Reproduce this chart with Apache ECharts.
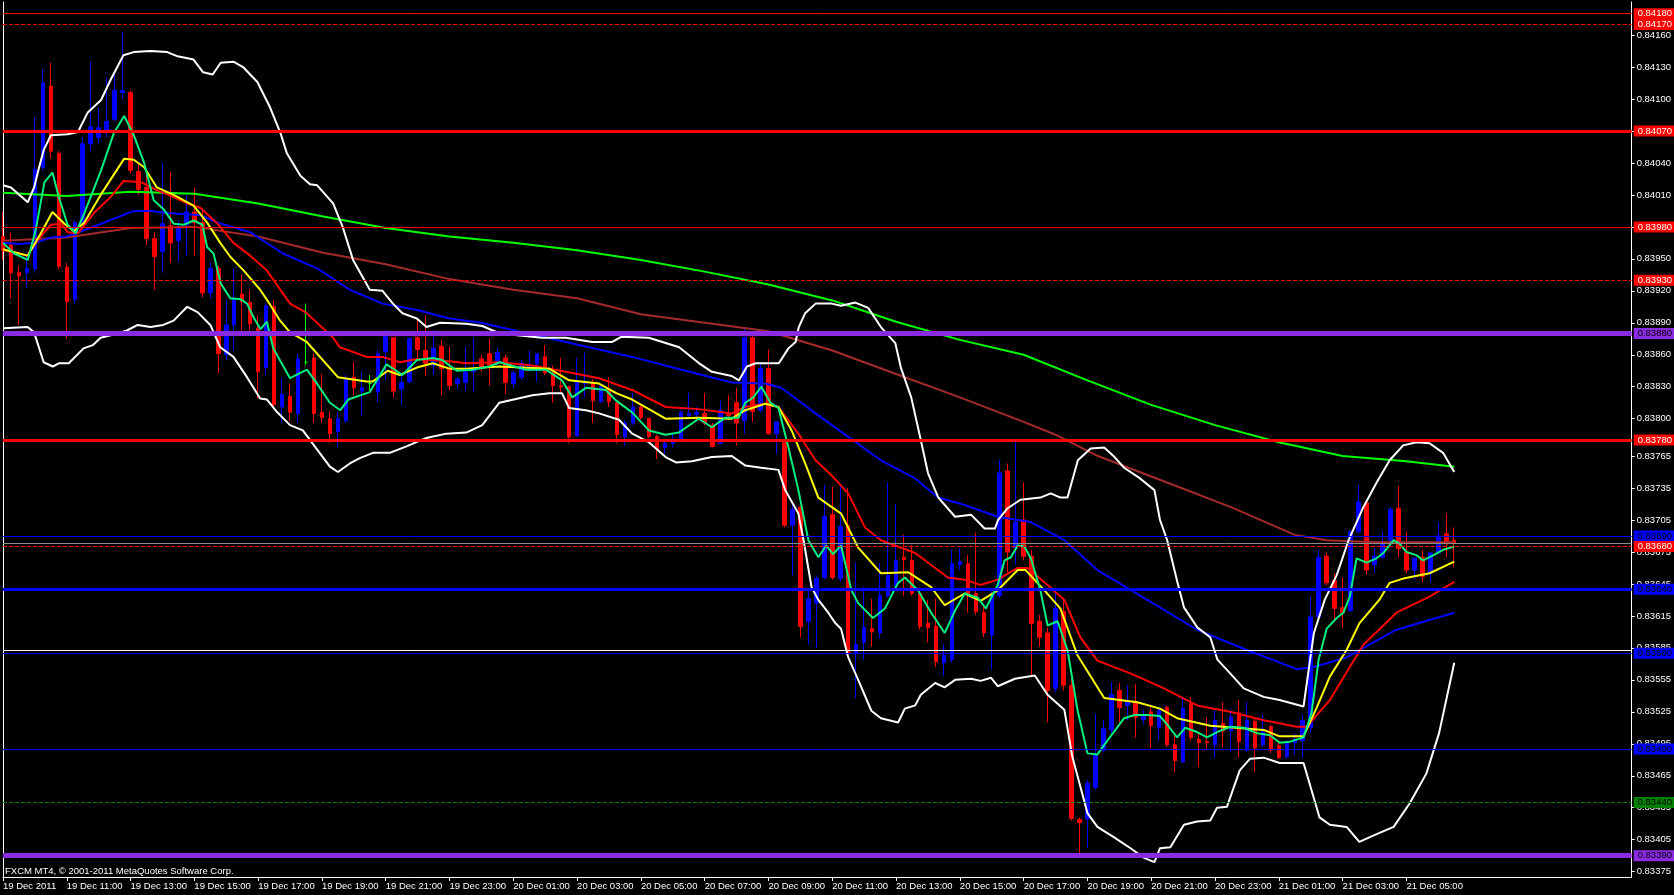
<!DOCTYPE html>
<html><head><meta charset="utf-8">
<script src="https://cdn.jsdelivr.net/npm/echarts@6/dist/echarts.min.js"></script>
<style>html,body{margin:0;padding:0;background:#000;}#c{width:1674px;height:895px;}</style>
</head><body><div id="c"></div>
<script>
// ---------------- DATA (EURGBP M15, 19 Dec 2011 09:00 -> 21 Dec 2011 06:30) ----------------
const timeLabels = ['19 Dec 2011','19 Dec 11:00','19 Dec 13:00','19 Dec 15:00','19 Dec 17:00','19 Dec 19:00','19 Dec 21:00','19 Dec 23:00','20 Dec 01:00','20 Dec 03:00','20 Dec 05:00','20 Dec 07:00','20 Dec 09:00','20 Dec 11:00','20 Dec 13:00','20 Dec 15:00','20 Dec 17:00','20 Dec 19:00','20 Dec 21:00','20 Dec 23:00','21 Dec 01:00','21 Dec 03:00','21 Dec 05:00'];
const barsPerLabel = 8;

const open = [0.83971,0.83963,0.83937,0.83937,0.83941,0.84036,0.84112,0.84049,0.83942,0.83912,0.83983,0.84058,0.84064,0.84071,0.84081,0.84106,0.84106,0.84032,0.84017,0.83969,0.83957,0.83981,0.83967,0.83982,0.83994,0.83984,0.83918,0.83941,0.83860,0.83888,0.83917,0.83909,0.83885,0.83848,0.83905,0.83811,0.83821,0.83805,0.83853,0.83857,0.83806,0.83800,0.83788,0.83798,0.83839,0.83826,0.83833,0.83825,0.83863,0.83876,0.83828,0.83835,0.83876,0.83864,0.83850,0.83868,0.83847,0.83833,0.83834,0.83844,0.83856,0.83861,0.83853,0.83857,0.83833,0.83839,0.83848,0.83852,0.83858,0.83843,0.83831,0.83830,0.83784,0.83833,0.83833,0.83816,0.83828,0.83815,0.83783,0.83796,0.83811,0.83800,0.83783,0.83773,0.83777,0.83781,0.83803,0.83804,0.83805,0.83794,0.83777,0.83805,0.83815,0.83798,0.83876,0.83808,0.83847,0.83786,0.83778,0.83700,0.83717,0.83610,0.83627,0.83651,0.83710,0.83650,0.83700,0.83580,0.83590,0.83603,0.83599,0.83634,0.83643,0.83670,0.83667,0.83636,0.83608,0.83605,0.83571,0.83574,0.83663,0.83664,0.83636,0.83618,0.83597,0.83634,0.83751,0.83679,0.83705,0.83671,0.83610,0.83599,0.83547,0.83619,0.83550,0.83424,0.83425,0.83454,0.83489,0.83508,0.83545,0.83531,0.83533,0.83518,0.83525,0.83510,0.83529,0.83494,0.83478,0.83533,0.83499,0.83497,0.83494,0.83514,0.83507,0.83524,0.83489,0.83516,0.83494,0.83511,0.83493,0.83483,0.83496,0.83498,0.83510,0.83614,0.83671,0.83648,0.83623,0.83620,0.83694,0.83721,0.83663,0.83670,0.83686,0.83716,0.83675,0.83658,0.83670,0.83655,0.83674,0.83692,0.83686];
const close = [0.83958,0.83937,0.83934,0.83941,0.84034,0.84115,0.84051,0.83943,0.83910,0.83984,0.84058,0.84074,0.84073,0.84079,0.84108,0.84108,0.84033,0.84015,0.83969,0.83952,0.83983,0.83965,0.83980,0.83994,0.83984,0.83918,0.83941,0.83861,0.83888,0.83913,0.83910,0.83889,0.83844,0.83906,0.83813,0.83823,0.83806,0.83856,0.83853,0.83805,0.83801,0.83786,0.83800,0.83837,0.83829,0.83829,0.83833,0.83861,0.83877,0.83826,0.83834,0.83875,0.83865,0.83852,0.83866,0.83847,0.83831,0.83837,0.83844,0.83846,0.83849,0.83850,0.83862,0.83834,0.83843,0.83852,0.83850,0.83861,0.83843,0.83831,0.83830,0.83783,0.83834,0.83834,0.83817,0.83830,0.83816,0.83785,0.83796,0.83811,0.83801,0.83783,0.83772,0.83777,0.83780,0.83806,0.83805,0.83806,0.83796,0.83774,0.83808,0.83803,0.83796,0.83876,0.83807,0.83847,0.83786,0.83797,0.83700,0.83715,0.83605,0.83631,0.83650,0.83708,0.83651,0.83699,0.83580,0.83588,0.83604,0.83600,0.83634,0.83653,0.83667,0.83668,0.83636,0.83605,0.83604,0.83572,0.83578,0.83664,0.83666,0.83634,0.83619,0.83599,0.83636,0.83749,0.83675,0.83703,0.83671,0.83608,0.83595,0.83545,0.83622,0.83550,0.83425,0.83421,0.83458,0.83484,0.83509,0.83541,0.83529,0.83534,0.83520,0.83522,0.83512,0.83527,0.83494,0.83479,0.83528,0.83501,0.83496,0.83496,0.83517,0.83507,0.83520,0.83497,0.83517,0.83491,0.83506,0.83489,0.83482,0.83496,0.83499,0.83517,0.83614,0.83670,0.83646,0.83622,0.83618,0.83694,0.83722,0.83658,0.83671,0.83684,0.83715,0.83678,0.83658,0.83669,0.83652,0.83674,0.83690,0.83683,0.83683];
const low = [0.83949,0.83913,0.83888,0.83923,0.83937,0.84033,0.84044,0.83940,0.83875,0.83908,0.83981,0.84051,0.84058,0.84064,0.84079,0.84100,0.84030,0.84010,0.83963,0.83921,0.83937,0.83946,0.83947,0.83953,0.83953,0.83914,0.83913,0.83843,0.83855,0.83864,0.83883,0.83883,0.83819,0.83841,0.83811,0.83796,0.83798,0.83796,0.83850,0.83796,0.83796,0.83777,0.83773,0.83796,0.83822,0.83803,0.83827,0.83815,0.83836,0.83820,0.83813,0.83833,0.83855,0.83840,0.83841,0.83822,0.83827,0.83828,0.83826,0.83825,0.83844,0.83831,0.83850,0.83823,0.83829,0.83836,0.83844,0.83835,0.83841,0.83815,0.83825,0.83777,0.83783,0.83820,0.83796,0.83815,0.83811,0.83777,0.83775,0.83794,0.83799,0.83782,0.83762,0.83767,0.83773,0.83778,0.83801,0.83801,0.83794,0.83773,0.83776,0.83799,0.83775,0.83786,0.83797,0.83806,0.83785,0.83767,0.83698,0.83653,0.83595,0.83588,0.83585,0.83649,0.83649,0.83647,0.83578,0.83538,0.83574,0.83586,0.83594,0.83632,0.83639,0.83634,0.83634,0.83602,0.83590,0.83567,0.83559,0.83571,0.83658,0.83618,0.83616,0.83595,0.83565,0.83632,0.83656,0.83663,0.83667,0.83558,0.83586,0.83515,0.83543,0.83545,0.83423,0.83391,0.83397,0.83452,0.83487,0.83505,0.83515,0.83517,0.83501,0.83514,0.83491,0.83498,0.83492,0.83468,0.83477,0.83498,0.83473,0.83489,0.83482,0.83492,0.83487,0.83482,0.83487,0.83469,0.83492,0.83486,0.83481,0.83481,0.83485,0.83482,0.83505,0.83611,0.83644,0.83611,0.83604,0.83619,0.83693,0.83654,0.83655,0.83669,0.83684,0.83670,0.83655,0.83649,0.83647,0.83646,0.83674,0.83670,0.83661];
const high = [0.83994,0.83975,0.83944,0.83955,0.84083,0.84128,0.84134,0.84051,0.83946,0.83986,0.84064,0.84135,0.84092,0.84120,0.84123,0.84163,0.84108,0.84040,0.84031,0.83975,0.84040,0.84031,0.83986,0.84010,0.84017,0.83995,0.83947,0.83944,0.83911,0.83941,0.83935,0.83921,0.83897,0.83908,0.83911,0.83838,0.83833,0.83861,0.83908,0.83861,0.83842,0.83807,0.83806,0.83841,0.83853,0.83844,0.83841,0.83864,0.83883,0.83877,0.83843,0.83876,0.83894,0.83897,0.83883,0.83874,0.83868,0.83839,0.83867,0.83876,0.83860,0.83875,0.83866,0.83860,0.83845,0.83855,0.83864,0.83861,0.83869,0.83850,0.83857,0.83831,0.83857,0.83862,0.83837,0.83831,0.83839,0.83817,0.83799,0.83824,0.83812,0.83801,0.83785,0.83780,0.83787,0.83808,0.83824,0.83811,0.83824,0.83796,0.83817,0.83822,0.83829,0.83886,0.83878,0.83853,0.83865,0.83797,0.83780,0.83721,0.83719,0.83639,0.83653,0.83738,0.83736,0.83738,0.83735,0.83665,0.83642,0.83631,0.83665,0.83740,0.83720,0.83691,0.83681,0.83639,0.83630,0.83631,0.83588,0.83677,0.83679,0.83672,0.83693,0.83625,0.83639,0.83761,0.83758,0.83778,0.83740,0.83677,0.83616,0.83604,0.83637,0.83632,0.83558,0.83426,0.83461,0.83523,0.83517,0.83553,0.83552,0.83550,0.83551,0.83527,0.83529,0.83528,0.83531,0.83505,0.83539,0.83539,0.83505,0.83520,0.83527,0.83534,0.83528,0.83536,0.83534,0.83519,0.83522,0.83513,0.83496,0.83498,0.83505,0.83522,0.83633,0.83677,0.83674,0.83655,0.83651,0.83695,0.83738,0.83724,0.83679,0.83694,0.83717,0.83737,0.83694,0.83670,0.83677,0.83675,0.83703,0.83711,0.83698];

// indicator readings: [bar index, price]
const maGreen = [[0,0.84012],[8,0.84009],[16,0.84013],[24,0.84011],[32,0.84002],[40,0.83990],[48,0.83979],[56,0.83971],[64,0.83965],[72,0.83958],[80,0.83949],[88,0.83938],[96,0.83926],[104,0.83911],[112,0.83891],[120,0.83874],[128,0.83860],[136,0.83836],[144,0.83813],[152,0.83794],[160,0.83778],[168,0.83765],[176,0.83760],[182,0.83755]];
const maBrown = [[0,0.83967],[8,0.83970],[16,0.83979],[24,0.83980],[32,0.83971],[40,0.83956],[48,0.83945],[56,0.83931],[64,0.83921],[72,0.83913],[80,0.83898],[88,0.83890],[96,0.83882],[104,0.83864],[112,0.83842],[120,0.83820],[128,0.83797],[132,0.83785],[137,0.83766],[145,0.83743],[154,0.83717],[162,0.83691],[166,0.83686],[172,0.83684],[182,0.83684]];
const maBlue = [[0,0.83965],[2,0.83964],[4,0.83965],[6,0.83970],[8,0.83971],[12,0.83982],[16.4,0.83995],[18.5,0.83995],[20.6,0.83993],[24.75,0.83991],[26.9,0.83984],[31,0.83975],[35.1,0.83955],[39.4,0.83941],[43.5,0.83921],[47.6,0.83908],[51.9,0.83902],[56,0.83894],[60,0.83890],[62.25,0.83886],[70.6,0.83872],[78.9,0.83858],[85.1,0.83846],[91.4,0.83834],[95.6,0.83833],[97.6,0.83829],[101.9,0.83805],[106,0.83783],[110.1,0.83761],[114.4,0.83744],[117.25,0.83726],[120.6,0.83719],[124.75,0.83708],[128.9,0.83703],[133.1,0.83686],[137.25,0.83658],[143.5,0.83630],[149.75,0.83602],[156,0.83583],[162.25,0.83565],[164.4,0.83567],[168.5,0.83576],[174.75,0.83602],[182,0.83618]];
const maRed = [[0,0.83958],[2,0.83955],[3,0.83953],[4.4,0.83968],[6,0.83982],[7.3,0.83983],[8.1,0.83975],[9.4,0.83974],[11.4,0.83993],[13.5,0.84008],[15.1,0.84023],[17.3,0.84022],[19.4,0.84014],[21.4,0.84008],[23.1,0.84002],[24.75,0.83998],[26.9,0.83983],[28.9,0.83965],[31,0.83953],[33.1,0.83939],[36,0.83908],[38.1,0.83899],[41.4,0.83876],[42.25,0.83867],[45.6,0.83858],[47.6,0.83858],[49.75,0.83853],[51.9,0.83856],[56,0.83854],[58.1,0.83852],[62.25,0.83853],[66.4,0.83850],[70.6,0.83844],[74.75,0.83838],[78.9,0.83827],[83.1,0.83811],[87.25,0.83809],[91.4,0.83805],[93.1,0.83811],[95.6,0.83814],[97.25,0.83811],[99.75,0.83786],[101.9,0.83761],[103.9,0.83747],[106,0.83730],[108.1,0.83698],[110.1,0.83686],[114.4,0.83674],[118.5,0.83651],[120.6,0.83649],[122.6,0.83644],[124.75,0.83649],[127.25,0.83660],[128.5,0.83660],[131,0.83644],[133.1,0.83630],[135.1,0.83595],[137.25,0.83573],[141.4,0.83561],[145.6,0.83547],[149.75,0.83531],[153.9,0.83525],[158.1,0.83517],[162.25,0.83511],[163.5,0.83511],[166.4,0.83536],[170.6,0.83588],[174.75,0.83618],[178.9,0.83633],[182,0.83647]];
const maYellow = [[0,0.83959],[3.1,0.83953],[4.75,0.83974],[6.2,0.83994],[7.7,0.83983],[8.9,0.83976],[10.2,0.83984],[12.25,0.84010],[15.2,0.84044],[16.4,0.84043],[17.7,0.84036],[19.3,0.84017],[21.4,0.84010],[23.9,0.84000],[25.6,0.83984],[27.25,0.83965],[28.5,0.83952],[30.2,0.83939],[32.25,0.83921],[33.5,0.83907],[34.75,0.83892],[36,0.83881],[38.1,0.83872],[42,0.83839],[45.6,0.83835],[46.4,0.83835],[48.25,0.83845],[49.75,0.83841],[51.9,0.83848],[53.9,0.83852],[56,0.83847],[58.1,0.83847],[62.25,0.83849],[68.5,0.83847],[71,0.83836],[74.75,0.83833],[76.9,0.83824],[78.9,0.83818],[83.1,0.83800],[87.25,0.83801],[91.4,0.83800],[93.1,0.83808],[95.6,0.83814],[97.25,0.83811],[98.9,0.83789],[100.6,0.83758],[102.25,0.83726],[105.1,0.83711],[107.25,0.83679],[110.1,0.83655],[113.5,0.83656],[116.4,0.83642],[118.1,0.83625],[120.6,0.83636],[122.6,0.83629],[124.75,0.83639],[127.25,0.83658],[128.25,0.83658],[130.6,0.83639],[132.6,0.83622],[134.75,0.83578],[138.1,0.83538],[142.25,0.83534],[145.1,0.83528],[147.25,0.83519],[151.4,0.83512],[158.1,0.83508],[160.1,0.83502],[163.1,0.83502],[164.75,0.83529],[166.4,0.83558],[168.5,0.83583],[170.1,0.83608],[172.6,0.83630],[173.9,0.83646],[175.6,0.83650],[178.9,0.83655],[182,0.83666]];
const maFast = [[0,0.83965],[1.4,0.83955],[3.1,0.83949],[4.1,0.83977],[5.2,0.84022],[6.2,0.84031],[7,0.84008],[8.1,0.83982],[9.1,0.83974],[10.2,0.83993],[12.3,0.84033],[13.9,0.84068],[15.2,0.84084],[16.4,0.84066],[17.7,0.84040],[18.9,0.84005],[20.2,0.83996],[21.4,0.83983],[22.7,0.83982],[23.9,0.83986],[25,0.83982],[25.6,0.83961],[26.4,0.83955],[27.3,0.83927],[28.5,0.83913],[29.8,0.83912],[30.6,0.83908],[31.5,0.83894],[32.3,0.83884],[33.1,0.83891],[33.9,0.83866],[36,0.83838],[38.1,0.83846],[39.1,0.83836],[41,0.83815],[42.3,0.83808],[43.3,0.83818],[46,0.83825],[48.1,0.83851],[50.1,0.83841],[51.9,0.83855],[53.9,0.83857],[55.1,0.83855],[56.9,0.83845],[58.9,0.83846],[61,0.83849],[62.3,0.83853],[65.6,0.83846],[68.1,0.83846],[70.1,0.83836],[71.4,0.83820],[73.1,0.83829],[75.6,0.83827],[76.9,0.83817],[78.9,0.83806],[81,0.83789],[83.1,0.83785],[84.75,0.83787],[87.25,0.83800],[88.9,0.83792],[90.6,0.83801],[92.25,0.83801],[93.1,0.83815],[94.1,0.83820],[95.1,0.83830],[96.25,0.83815],[97.25,0.83810],[98.5,0.83773],[99.75,0.83733],[101,0.83686],[102.25,0.83670],[103.25,0.83681],[104.1,0.83673],[105.1,0.83681],[106.4,0.83639],[107.25,0.83627],[109.1,0.83613],[110.6,0.83622],[112.25,0.83646],[113.1,0.83651],[114.75,0.83639],[116.4,0.83618],[118.1,0.83599],[119.4,0.83620],[120.6,0.83636],[122.25,0.83632],[123.25,0.83622],[124.75,0.83644],[125.6,0.83667],[126.4,0.83670],[127.25,0.83681],[128.1,0.83680],[128.9,0.83669],[130.1,0.83639],[131,0.83606],[132.25,0.83610],[133.5,0.83583],[134.75,0.83527],[136,0.83486],[137.25,0.83485],[138.5,0.83498],[140.6,0.83519],[141.9,0.83522],[143.5,0.83522],[145.1,0.83521],[146,0.83513],[147.25,0.83501],[148.25,0.83510],[149.75,0.83506],[151,0.83501],[152.25,0.83506],[153.9,0.83511],[155.6,0.83510],[157.25,0.83505],[158.9,0.83503],[160.1,0.83496],[161.4,0.83497],[163.1,0.83501],[164.1,0.83524],[165,0.83574],[166,0.83603],[167.25,0.83613],[168.1,0.83618],[168.9,0.83633],[169.75,0.83669],[171,0.83665],[172.25,0.83669],[173.1,0.83674],[174.4,0.83686],[175.1,0.83683],[176,0.83675],[177.25,0.83672],[178.1,0.83667],[179.4,0.83672],[180.6,0.83677],[182,0.83680]];
const bandUpper = [[0,0.84019],[1,0.84017],[3.1,0.84003],[3.9,0.84017],[4.5,0.84035],[5.1,0.84052],[6,0.84066],[8.1,0.84067],[9.4,0.84069],[10.6,0.84087],[12.3,0.84099],[13.5,0.84118],[15.1,0.84141],[16.4,0.84144],[18.5,0.84145],[20.6,0.84144],[21.9,0.84140],[23.9,0.84137],[25.1,0.84125],[26.3,0.84123],[27.3,0.84134],[28.9,0.84135],[30.1,0.84130],[31.9,0.84116],[33.5,0.84092],[34.8,0.84068],[35.6,0.84049],[37.3,0.84028],[38.5,0.84020],[39.4,0.84019],[41.4,0.84002],[42.6,0.83980],[43.9,0.83949],[45.1,0.83933],[46,0.83921],[47.6,0.83920],[48.9,0.83908],[50.1,0.83899],[51.9,0.83894],[53.1,0.83886],[54.8,0.83890],[58.1,0.83889],[60.1,0.83887],[62.3,0.83880],[67.6,0.83876],[70.6,0.83876],[73.9,0.83872],[76.4,0.83872],[77.6,0.83877],[81,0.83876],[84.8,0.83867],[87.3,0.83852],[88.9,0.83844],[91.4,0.83840],[92.3,0.83836],[93.3,0.83849],[94.4,0.83852],[97.3,0.83852],[98.5,0.83866],[99.4,0.83872],[99.8,0.83886],[100.6,0.83899],[101.9,0.83908],[103.9,0.83908],[105.1,0.83906],[106.9,0.83909],[108.5,0.83904],[110.1,0.83886],[111.9,0.83871],[112.6,0.83848],[113.9,0.83820],[115.1,0.83780],[116,0.83749],[117.3,0.83726],[119.4,0.83708],[121.4,0.83710],[123.1,0.83697],[124.4,0.83697],[124.8,0.83705],[126,0.83716],[127.6,0.83724],[130.1,0.83726],[131.4,0.83730],[132.6,0.83726],[133.5,0.83726],[134.8,0.83761],[136.4,0.83772],[138.1,0.83773],[139.4,0.83764],[140.6,0.83754],[142.6,0.83744],[144.4,0.83733],[145.1,0.83705],[146,0.83686],[147.3,0.83646],[148.1,0.83623],[149.8,0.83604],[151.4,0.83595],[152.3,0.83574],[153.9,0.83561],[155.6,0.83547],[158.1,0.83539],[160.1,0.83536],[163.1,0.83530],[164.4,0.83599],[165.75,0.83630],[167.25,0.83653],[168.75,0.83686],[170.6,0.83717],[172.25,0.83740],[173.9,0.83761],[175.6,0.83775],[177.25,0.83778],[178.9,0.83777],[180.6,0.83768],[182,0.83750]];
const bandLower = [[0,0.83885],[3.1,0.83886],[3.9,0.83881],[5.1,0.83853],[6.25,0.83849],[7,0.83852],[8.25,0.83852],[10.1,0.83866],[11.25,0.83869],[12.25,0.83876],[14.4,0.83880],[15.6,0.83883],[16.9,0.83888],[18.5,0.83886],[20.1,0.83888],[21.4,0.83892],[23.1,0.83905],[24.4,0.83900],[26,0.83888],[27.25,0.83867],[28.9,0.83858],[30.6,0.83839],[32.25,0.83819],[33.1,0.83818],[34.4,0.83806],[36,0.83794],[37.6,0.83789],[39.4,0.83771],[41,0.83755],[42,0.83750],[43.5,0.83758],[44.75,0.83763],[46.4,0.83768],[48.5,0.83768],[50.6,0.83774],[53.1,0.83782],[55.6,0.83786],[58.1,0.83787],[60.1,0.83794],[62.25,0.83815],[66.4,0.83822],[68.5,0.83824],[70.1,0.83824],[71,0.83810],[73.1,0.83808],[74.75,0.83805],[77.25,0.83799],[78.9,0.83786],[81,0.83778],[83.1,0.83764],[84.4,0.83759],[86.4,0.83760],[88.9,0.83764],[91.4,0.83765],[93.1,0.83756],[95.1,0.83754],[97.25,0.83752],[98.1,0.83733],[99.75,0.83711],[100.4,0.83686],[101.4,0.83642],[102.25,0.83630],[103.5,0.83618],[104.4,0.83608],[105.1,0.83603],[106,0.83576],[107.25,0.83555],[108.9,0.83526],[110.1,0.83519],[112.25,0.83515],[113.1,0.83528],[114.4,0.83531],[115.1,0.83541],[116.9,0.83552],[118.1,0.83548],[119.4,0.83555],[121.4,0.83556],[122.6,0.83554],[123.9,0.83557],[124.75,0.83549],[126.9,0.83556],[129.4,0.83559],[131,0.83541],[133.1,0.83527],[134.1,0.83483],[136,0.83430],[137.25,0.83417],[139.4,0.83407],[141.4,0.83397],[143.1,0.83388],[144.4,0.83384],[145.1,0.83397],[146.4,0.83398],[148.1,0.83419],[149.75,0.83422],[151.4,0.83423],[152.25,0.83435],[153.5,0.83436],[155.1,0.83470],[156.4,0.83481],[158.1,0.83482],[160.1,0.83477],[163.1,0.83477],[165.1,0.83426],[166.4,0.83419],[168.5,0.83417],[170.1,0.83403],[171.9,0.83409],[174.4,0.83417],[176.4,0.83439],[178.5,0.83467],[180.1,0.83505],[182,0.83571]];

const priceTicks = [0.84160,0.84130,0.84100,0.84070,0.84040,0.84010,0.83980,0.83950,0.83920,0.83890,0.83860,0.83830,0.83800,0.83765,0.83735,0.83705,0.83675,0.83645,0.83615,0.83585,0.83555,0.83525,0.83495,0.83465,0.83435,0.83405,0.83375];
const levelPrices = [0.84180,0.84170,0.84070,0.83980,0.83930,0.83880,0.83780,0.83690,0.83680,0.83640,0.83583,0.83580,0.83490,0.83440,0.83390];
const priceMin = 0.83370, priceMax = 0.84191;
const slotCount = 204.25;

// ---------------- STYLES ----------------
const FONT = '"Liberation Sans", Arial, sans-serif';
const RED = '#ff0000', PURPLE = '#8a2be2', BLUE = '#0000ff', DGREEN = '#008000', WHITE = '#ffffff';
const levelStyles = [
  {c:RED, w:1, t:'solid', lab:true, tc:'#ffffff'},
  {c:RED, w:1, t:[4,2], lab:true, tc:'#ffffff'},
  {c:RED, w:3, t:'solid', lab:true, tc:'#ffffff'},
  {c:RED, w:1, t:'solid', lab:true, tc:'#ffffff'},
  {c:RED, w:1, t:[4,2], lab:true, tc:'#ffffff'},
  {c:PURPLE, w:5, t:'solid', lab:true, tc:'#000000'},
  {c:RED, w:3, t:'solid', lab:true, tc:'#ffffff'},
  {c:BLUE, w:1, t:'solid', lab:true, tc:'#000000'},
  {c:RED, w:1, t:[4,2], lab:true, tc:'#ffffff'},
  {c:BLUE, w:3, t:'solid', lab:true, tc:'#000000'},
  {c:WHITE, w:1, t:'solid', lab:false},
  {c:BLUE, w:1, t:'solid', lab:true, tc:'#000000'},
  {c:BLUE, w:1, t:'solid', lab:true, tc:'#000000'},
  {c:DGREEN, w:1, t:[4,2], lab:true, tc:'#000000'},
  {c:PURPLE, w:5, t:'solid', lab:true, tc:'#000000'}
];

const candleData = open.map((o, i) => {
  const v = [i, o, close[i], low[i], high[i]];
  if (o === close[i]) return {value: v, itemStyle: {color:'#00ff00', borderColor:'#00ff00', color0:'#00ff00', borderColor0:'#00ff00'}};
  return v;
});
const tickBars = timeLabels.map((_, i) => i * barsPerLabel);

function lineSeries(data, color, width) {
  return {type:'line', data, symbol:'none', showSymbol:false, silent:true, animation:false,
    lineStyle:{color, width}, z:3, xAxisIndex:0, yAxisIndex:0};
}

const markData = levelPrices.map((p, i) => {
  const s = levelStyles[i];
  return {
    yAxis: p,
    lineStyle: {color: s.c, width: s.w, type: s.t},
    label: s.lab ? {show:true, position:'end', distance:2, formatter: p.toFixed(5),
      color: s.tc, backgroundColor: s.c, padding:[1,10,0,4], fontSize:9.5, lineHeight:10, fontFamily: FONT} : {show:false}
  };
});
markData.unshift({yAxis: close[close.length-1], lineStyle:{color:'#8c8c8c', width:1, type:'solid'}, label:{show:false}});

const chart = echarts.init(document.getElementById('c'));
chart.setOption({
  backgroundColor:'#000000',
  animation:false,
  grid:{left:2, right:38, top:2, bottom:18},
  xAxis:{type:'value', min:0, max:slotCount,
    axisLine:{show:true, onZero:false, lineStyle:{color:WHITE, width:1}},
    axisTick:{show:true, length:4, customValues:tickBars, lineStyle:{color:WHITE}},
    axisLabel:{show:true, customValues:tickBars, formatter:(v)=>timeLabels[Math.round(v/barsPerLabel)] || '',
      color:WHITE, fontSize:9.5, fontFamily:FONT, align:'left', margin:4},
    splitLine:{show:false}},
  yAxis:[
    {type:'value', position:'right', min:priceMin, max:priceMax,
      axisLine:{show:true, onZero:false, lineStyle:{color:WHITE, width:1}},
      axisTick:{show:true, length:3, customValues:priceTicks, lineStyle:{color:WHITE}},
      axisLabel:{show:true, customValues:priceTicks, formatter:(v)=>v.toFixed(5), color:WHITE, fontSize:9.5, fontFamily:FONT, margin:5},
      splitLine:{show:false}},
    {type:'value', position:'left', min:priceMin, max:priceMax,
      axisLine:{show:true, onZero:false, lineStyle:{color:WHITE, width:1}},
      axisTick:{show:false}, axisLabel:{show:false}, splitLine:{show:false}}
  ],
  series:[
    {type:'candlestick', data:candleData, barWidth:4, silent:true, animation:false, z:2,
      itemStyle:{color:BLUE, color0:RED, borderColor:BLUE, borderColor0:RED, borderColorDoji:'#00ff00', borderWidth:1}},
    lineSeries(maGreen, '#00ff00', 2),
    lineSeries(maBrown, '#a52a2a', 2),
    lineSeries(maBlue, BLUE, 2),
    lineSeries(maRed, RED, 2),
    lineSeries(maYellow, '#ffff00', 2),
    lineSeries(maFast, '#00f080', 2),
    lineSeries(bandUpper, WHITE, 2),
    lineSeries(bandLower, WHITE, 2),
    {type:'line', data:[[0, close[0]]], symbol:'none', showSymbol:false, lineStyle:{opacity:0}, silent:true, z:5,
      markLine:{silent:true, symbol:['none','none'], precision:5, animation:false, data:markData}}
  ],
  graphic:[{type:'text', left:5, top:866, silent:true,
    style:{text:'FXCM MT4, \u00a9 2001-2011 MetaQuotes Software Corp.', fill:WHITE, font:'9.5px ' + FONT}}]
});
</script></body></html>
